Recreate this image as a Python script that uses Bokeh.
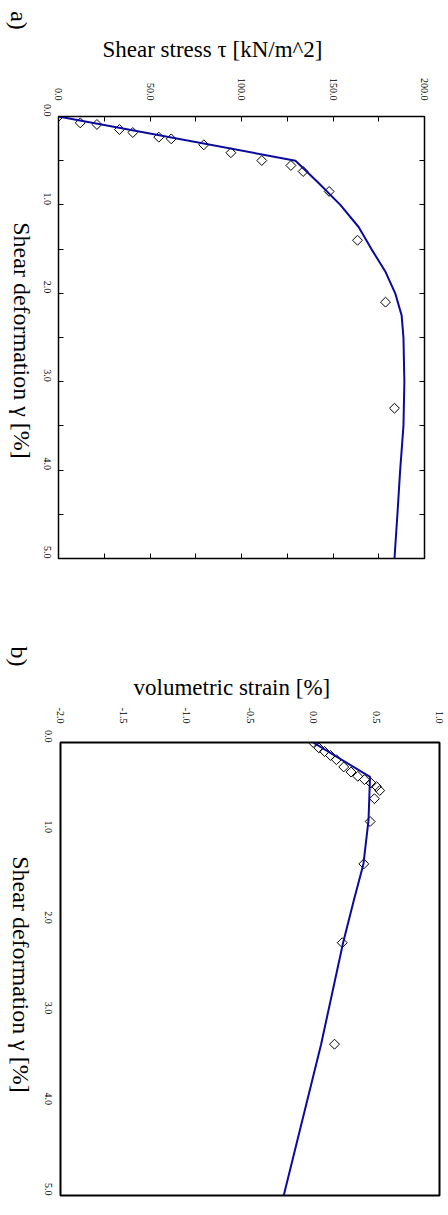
import math
from bokeh.plotting import figure
from bokeh.layouts import column, row
from bokeh.models import (Range1d, LinearAxis, FixedTicker, NumeralTickFormatter, Label,
                          CustomLabelingPolicy, Title)
from bokeh.embed import file_html
from bokeh.resources import INLINE

# ---- data panel a ----
gamma_fit_a = [0, 0.5, 0.75, 1.0, 1.25, 1.5, 1.75, 2.0, 2.25, 2.5, 3.0, 3.5, 4.0, 4.5, 5.0]
tau_fit = [0, 129.5, 142, 154, 164, 171, 178.5, 184, 187.5, 188.5, 189, 188.5, 186.7, 185.2, 183.6]
gamma_exp_a = [0, 0.072, 0.09, 0.147, 0.181, 0.234, 0.253, 0.32, 0.41, 0.498, 0.554, 0.622, 0.848, 1.40, 2.10, 3.30]
tau_exp = [0, 11.9, 21, 33.3, 40.6, 54.8, 61.6, 79.4, 94.2, 111.1, 127, 133.7, 147.9, 163.4, 178.7, 183.6]

# ---- data panel b ----
gamma_fit_b = [0, 0.38, 0.86, 1.34, 1.74, 2.21, 3.33, 5.0]
vs_fit = [0, 0.45, 0.438, 0.398, 0.322, 0.237, 0.063, -0.233]
gamma_exp_b = [0.0, 0.059, 0.099, 0.143, 0.19, 0.27, 0.326, 0.373, 0.41, 0.449, 0.486, 0.53, 0.62, 0.872, 1.34, 2.21, 3.33]
vs_exp = [0.0, 0.045, 0.09, 0.137, 0.184, 0.242, 0.30, 0.353, 0.406, 0.459, 0.501, 0.527, 0.485, 0.451, 0.401, 0.23, 0.169]

tau_ticks = [0, 50, 100, 150, 200]
tau_minor = [25, 75, 125, 175]
gamma_ticks = [0, 1, 2, 3, 4, 5]
gamma_minor = [0.5, 1.5, 2.5, 3.5, 4.5]
vs_ticks = [-2.0, -1.5, -1.0, -0.5, 0.0, 0.5, 1.0]

FONT = "Liberation Serif"
BLUE = "#0A0A9E"
ROT = -math.pi / 2
SIDE_W = 34
PAGE_H = 1200

no_labels = CustomLabelingPolicy(code="""
const all = Array.from(indices);
for (const i of all) { indices.unset(i); }
return indices;
""")

def style_axis(ax, ticks, minor, show_labels, ticks_in):
    ax.ticker = FixedTicker(ticks=ticks, minor_ticks=minor)
    ax.formatter = NumeralTickFormatter(format="0.0")
    ax.axis_line_color = "black"
    ax.major_tick_out = 0
    ax.minor_tick_out = 0
    ax.major_tick_in = ticks_in
    ax.minor_tick_in = ticks_in
    ax.major_tick_line_color = "black"
    ax.minor_tick_line_color = "black"
    ax.major_label_text_font = FONT
    ax.major_label_text_color = "black"
    ax.major_label_text_font_size = "10px"
    ax.major_label_orientation = ROT
    if not show_labels:
        ax.major_label_policy = no_labels
        ax.major_label_standoff = 0

def add_title(p, text, offset, standoff):
    p.add_layout(Title(text=text, align="left", offset=offset, standoff=standoff,
                       text_font=FONT, text_font_size="23px", text_font_style="normal",
                       text_color="black"), "above")

def add_side_text(p, x, y_from_top, text, size):
    p.add_layout(Label(x=x, y=PAGE_H - y_from_top, x_units="screen", y_units="screen",
                       text=text, angle=ROT, text_font=FONT, text_font_size=size,
                       text_align="center", text_baseline="middle", text_color="black"))

# ---------------- side strip with rotated texts ----------------
side = figure(width=SIDE_W, height=PAGE_H, output_backend="svg", toolbar_location=None,
              x_range=Range1d(0, 1), y_range=Range1d(0, 1),
              x_axis_location=None, y_axis_location=None,
              min_border_left=0, min_border_right=0, min_border_top=0, min_border_bottom=0,
              frame_align=False)
side.grid.visible = False
side.outline_line_color = None
add_side_text(side, 18, 20, "a)", "24px")
add_side_text(side, 21, 343, "Shear deformation  γ [%]", "24px")
add_side_text(side, 18, 656, "b)", "24px")
add_side_text(side, 20, 977, "Shear deformation  γ [%]", "24px")

# ---------------- panel a ----------------
pa = figure(width=441 - SIDE_W, height=600, output_backend="svg", toolbar_location=None,
            x_range=Range1d(0, 200), y_range=Range1d(5, 0),
            x_axis_location=None, y_axis_location=None,
            min_border_left=58 - SIDE_W, min_border_right=17, min_border_top=116,
            min_border_bottom=42, frame_align=False)
pa.grid.visible = False
pa.outline_line_color = "black"
pa.outline_line_width = 1.5

top_a = LinearAxis()
style_axis(top_a, tau_ticks, tau_minor, True, 5)
top_a.major_label_standoff = 16
pa.add_layout(top_a, "above")
left_a = LinearAxis()
style_axis(left_a, gamma_ticks, gamma_minor, True, 5)
left_a.major_label_standoff = 11
pa.add_layout(left_a, "left")
right_a = LinearAxis()
style_axis(right_a, gamma_ticks, gamma_minor, False, 5)
pa.add_layout(right_a, "right")
bot_a = LinearAxis()
style_axis(bot_a, tau_ticks, tau_minor, False, 5)
pa.add_layout(bot_a, "below")
add_title(pa, "Shear stress  τ [kN/m^2]", 44, 25)

pa.scatter(tau_exp, gamma_exp_a, marker="square", angle=math.pi / 4, size=7,
           fill_color=None, line_color="black", line_width=1)
pa.line(tau_fit, gamma_fit_a, line_color=BLUE, line_width=2)

# ---------------- panel b ----------------
pb = figure(width=448 - SIDE_W, height=600, output_backend="svg", toolbar_location=None,
            x_range=Range1d(-2.0, 1.0), y_range=Range1d(5, 0),
            x_axis_location=None, y_axis_location=None,
            min_border_left=60 - SIDE_W, min_border_right=9, min_border_top=142,
            min_border_bottom=5, frame_align=False)
pb.grid.visible = False
pb.outline_line_color = "black"
pb.outline_line_width = 2

top_b = LinearAxis()
style_axis(top_b, vs_ticks, [], True, 0)
top_b.major_label_standoff = 19
pb.add_layout(top_b, "above")
left_b = LinearAxis()
style_axis(left_b, gamma_ticks, [], True, 0)
left_b.major_label_standoff = 12
pb.add_layout(left_b, "left")
add_title(pb, "volumetric strain [%]", 73, 10)

pb.scatter(vs_exp, gamma_exp_b, marker="square", angle=math.pi / 4, size=7,
           fill_color=None, line_color="black", line_width=1)
pb.line(vs_fit, gamma_fit_b, line_color=BLUE, line_width=2)

layout = row(side, column(pa, pb, spacing=0), spacing=0)
open("out.html", "w").write(file_html(layout, INLINE))
